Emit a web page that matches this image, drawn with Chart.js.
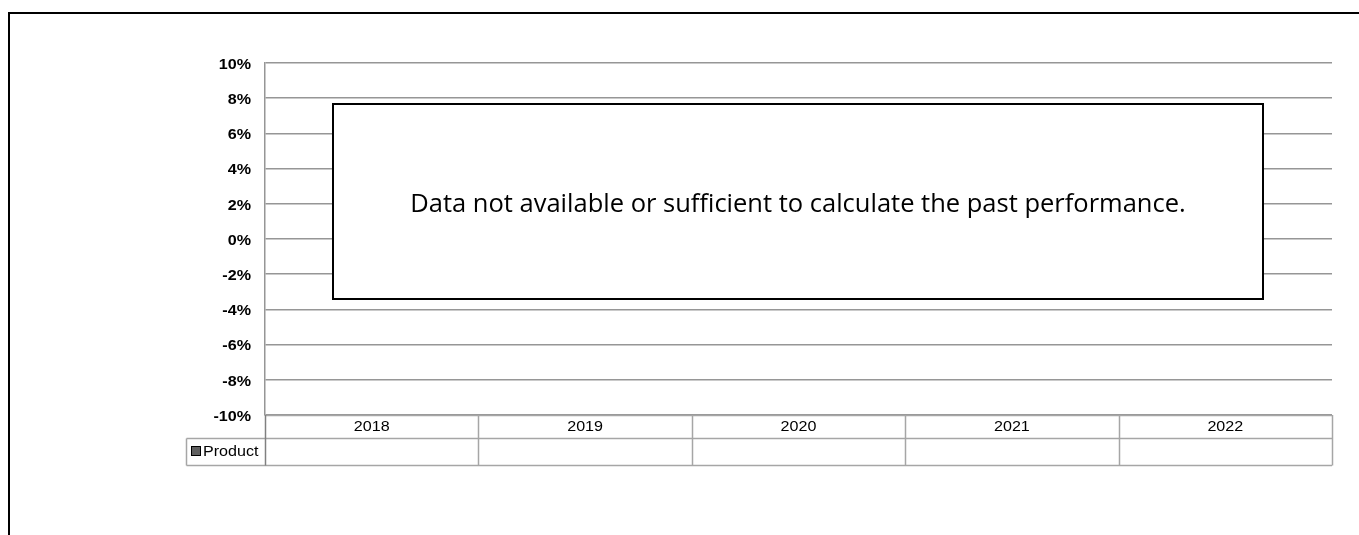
<!DOCTYPE html>
<html>
<head>
<meta charset="utf-8">
<script src="https://cdn.jsdelivr.net/npm/chart.js@4.4.1/dist/chart.umd.min.js"></script>
<style>
  html, body { margin: 0; padding: 0; background: #fff; }
  #wrap { position: relative; width: 1359px; height: 535px; }
</style>
</head>
<body>
<div id="wrap"><canvas id="perf"></canvas></div>
<script>
// jahre und werte (keine daten vorhanden)
const categories = ['2018', '2019', '2020', '2021', '2022'];
const productValues = [null, null, null, null, null];
const seriesName = 'Product';
const yMin = -10;
const yMax = 10;
const yStep = 2;
const noDataText = 'Data not available or sufficient to calculate the past performance.';

const gridColor = '#969696';
const tableColor = '#a6a6a6';
const labelFont = '"Liberation Sans", Arial, sans-serif';
// das original ist etwas in die breite gezogen
const stretchX = 1.15;

function stretchedText(ctx, text, x, y, align) {
    ctx.save();
    ctx.translate(x, y);
    ctx.scale(stretchX, 1);
    ctx.textAlign = align;
    ctx.fillText(text, 0, 0);
    ctx.restore();
}

// rahmen oben und links
const framePlugin = {
    id: 'frame',
    beforeDraw(chart) {
        const ctx = chart.ctx;
        ctx.save();
        ctx.strokeStyle = '#000';
        ctx.lineWidth = 2;
        ctx.beginPath();
        ctx.moveTo(9, 535);
        ctx.lineTo(9, 13);
        ctx.lineTo(1359, 13);
        ctx.stroke();
        ctx.restore();
    }
};

// achsenbeschriftung links
const yLabelPlugin = {
    id: 'yLabels',
    afterDraw(chart) {
        const ctx = chart.ctx;
        const y = chart.scales.y;
        ctx.save();
        ctx.fillStyle = '#000';
        ctx.font = 'bold 14px ' + labelFont;
        ctx.textBaseline = 'middle';
        y.ticks.forEach((t) => {
            stretchedText(ctx, t.value + '%', 251, y.getPixelForValue(t.value) + 2, 'right');
        });
        ctx.restore();
    }
};

// datentabelle unter dem diagramm
const dataTablePlugin = {
    id: 'dataTable',
    afterDraw(chart) {
        const ctx = chart.ctx;
        const x = chart.scales.x;
        const area = chart.chartArea;
        const rowTop = area.bottom;
        const rowMid = rowTop + 22.5;
        const rowBottom = rowMid + 27;
        const legendLeft = 186.5;
        const step = (area.right - area.left) / categories.length;

        ctx.save();
        ctx.strokeStyle = tableColor;
        ctx.lineWidth = 1.5;
        ctx.beginPath();
        // waagerechte linien
        ctx.moveTo(area.left, rowTop + 0.5);
        ctx.lineTo(area.right, rowTop + 0.5);
        ctx.moveTo(legendLeft, Math.round(rowMid) + 0.5);
        ctx.lineTo(area.right, Math.round(rowMid) + 0.5);
        ctx.moveTo(legendLeft, Math.round(rowBottom) + 0.5);
        ctx.lineTo(area.right, Math.round(rowBottom) + 0.5);
        // senkrechte linien
        ctx.moveTo(legendLeft, Math.round(rowMid) + 0.5);
        ctx.lineTo(legendLeft, Math.round(rowBottom) + 0.5);
        for (let i = 1; i <= categories.length; i++) {
            const px = Math.round(area.left + i * step) + 0.5;
            ctx.moveTo(px, rowTop);
            ctx.lineTo(px, Math.round(rowBottom) + 0.5);
        }
        ctx.stroke();
        ctx.strokeStyle = '#808080';
        ctx.beginPath();
        ctx.moveTo(Math.round(area.left) + 0.5, rowTop);
        ctx.lineTo(Math.round(area.left) + 0.5, Math.round(rowBottom) + 0.5);
        ctx.stroke();

        // jahreszahlen
        ctx.fillStyle = '#000';
        ctx.font = '14px ' + labelFont;
        ctx.textBaseline = 'middle';
        categories.forEach((label, i) => {
            stretchedText(ctx, label, x.getPixelForValue(i), (rowTop + rowMid) / 2 + 1, 'center');
        });

        // legende in der tabelle
        const ly = (rowMid + rowBottom) / 2;
        ctx.fillStyle = '#606060';
        ctx.fillRect(192, ly - 4, 8, 8);
        ctx.strokeStyle = '#000';
        ctx.lineWidth = 1;
        ctx.strokeRect(191.5, ly - 4.5, 9, 9);
        ctx.fillStyle = '#000';
        stretchedText(ctx, chart.data.datasets[0].label, 203, ly + 1, 'left');
        ctx.restore();
    }
};

// hinweisfeld
const noDataPlugin = {
    id: 'noData',
    afterDraw(chart) {
        const ctx = chart.ctx;
        const area = chart.chartArea;
        const left = area.left + 68;
        const right = area.right - 69;
        const top = 104;
        const bottom = 299;
        ctx.save();
        ctx.fillStyle = '#fff';
        ctx.fillRect(left, top, right - left, bottom - top);
        ctx.strokeStyle = '#000';
        ctx.lineWidth = 2;
        ctx.strokeRect(left, top, right - left, bottom - top);
        ctx.fillStyle = '#000';
        ctx.font = '25.5px "Open Sans", "Noto Sans", sans-serif';
        ctx.textAlign = 'center';
        ctx.textBaseline = 'alphabetic';
        ctx.fillText(noDataText, (left + right) / 2, 212);
        ctx.restore();
    }
};

new Chart(document.getElementById('perf'), {
    type: 'bar',
    data: {
        labels: categories,
        datasets: [{
            label: seriesName,
            data: productValues,
            backgroundColor: '#606060'
        }]
    },
    options: {
        responsive: true,
        maintainAspectRatio: false,
        animation: false,
        layout: {
            padding: { left: 0, top: 63, right: 27, bottom: 120 }
        },
        plugins: {
            legend: { display: false },
            tooltip: { enabled: false }
        },
        scales: {
            x: {
                display: false
            },
            y: {
                min: yMin,
                max: yMax,
                afterFit(scale) { scale.width = 265; },
                ticks: {
                    stepSize: yStep,
                    display: false
                },
                grid: {
                    color: gridColor,
                    lineWidth: 1.5,
                    drawTicks: false
                },
                border: { display: true, color: gridColor, width: 1.5 }
            }
        }
    },
    plugins: [framePlugin, yLabelPlugin, dataTablePlugin, noDataPlugin]
});
</script>
</body>
</html>
